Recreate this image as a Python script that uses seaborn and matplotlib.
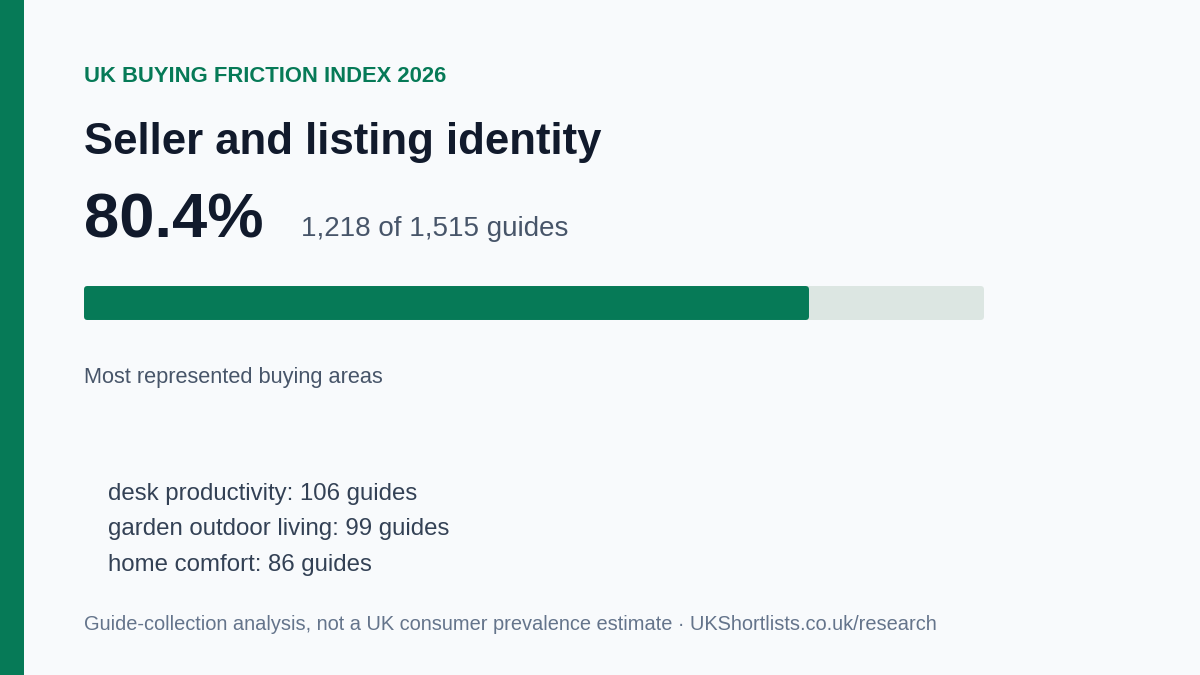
import matplotlib
matplotlib.use("Agg")
import matplotlib.pyplot as plt
import seaborn as sns
import pandas as pd

kicker = "UK BUYING FRICTION INDEX 2026"
title = "Seller and listing identity"
matched = 1218
total = 1515
share_pct = 80.4
areas = ["desk productivity", "garden outdoor living", "home comfort"]
area_counts = [106, 99, 86]
footer = "Guide-collection analysis, not a UK consumer prevalence estimate \u00b7 UKShortlists.co.uk/research"

GREEN = "#067a57"
TRACK = "#dce6e2"
BG = "#f8fafc"
INK = "#111a2c"
SLATE = "#475569"

sns.set_theme(style="white")
plt.rcParams["font.family"] = ["Liberation Sans", "DejaVu Sans"]

W, H = 1200, 675
fig = plt.figure(figsize=(12, 6.75), dpi=100, facecolor=BG)

def px(x, y):
  return x / W, 1 - y / H

# left accent strip
strip = fig.add_axes([0, 0, 24 / W, 1])
strip.set_facecolor(GREEN)
strip.set_xticks([]); strip.set_yticks([])
for s in strip.spines.values():
  s.set_visible(False)

fig.text(*px(84, 82), kicker, color=GREEN, fontsize=15.8, fontweight="bold", va="baseline")
fig.text(*px(84, 154), title, color=INK, fontsize=31.5, fontweight="bold", va="baseline")
fig.text(*px(84, 238), f"{share_pct}%", color=INK, fontsize=45.5, fontweight="bold", va="baseline")
fig.text(*px(301, 236), f"{matched:,} of {total:,} guides", color=SLATE, fontsize=20, va="baseline")

# progress bar (thick round-joined edge gives the soft corners)
bar_df = pd.DataFrame({"row": ["all", "all"], "value": [100, share_pct], "kind": ["track", "fill"]})
ax = fig.add_axes([(84 + 3) / W, 1 - (320 - 3) / H, (900 - 6) / W, (34 - 6) / H])
ax.set_facecolor("none")
sns.barplot(data=bar_df, x="value", y="row", hue="kind", palette={"track": TRACK, "fill": GREEN},
            dodge=False, width=1.0, orient="h", saturation=1, legend=False, ax=ax)
for p in ax.patches:
  p.set_edgecolor(p.get_facecolor())
  p.set_linewidth(4.3)
  p.set_joinstyle("round")
  p.set_clip_on(False)
ax.set_xlim(0, 100)
ax.set_ylim(0.5, -0.5)
ax.set_xlabel(""); ax.set_ylabel("")
ax.set_xticks([]); ax.set_yticks([])
for s in ax.spines.values():
  s.set_visible(False)

fig.text(*px(84, 383), "Most represented buying areas", color=SLATE, fontsize=15.7, va="baseline")

for i, (name, n) in enumerate(zip(areas, area_counts)):
  fig.text(*px(108, 500 + 35.5 * i), f"{name}: {n} guides", color="#334155", fontsize=17.3, va="baseline")

fig.text(*px(84, 630), footer, color="#64748b", fontsize=14.4, va="baseline")

fig.savefig("out.png", dpi=100, facecolor=BG)
